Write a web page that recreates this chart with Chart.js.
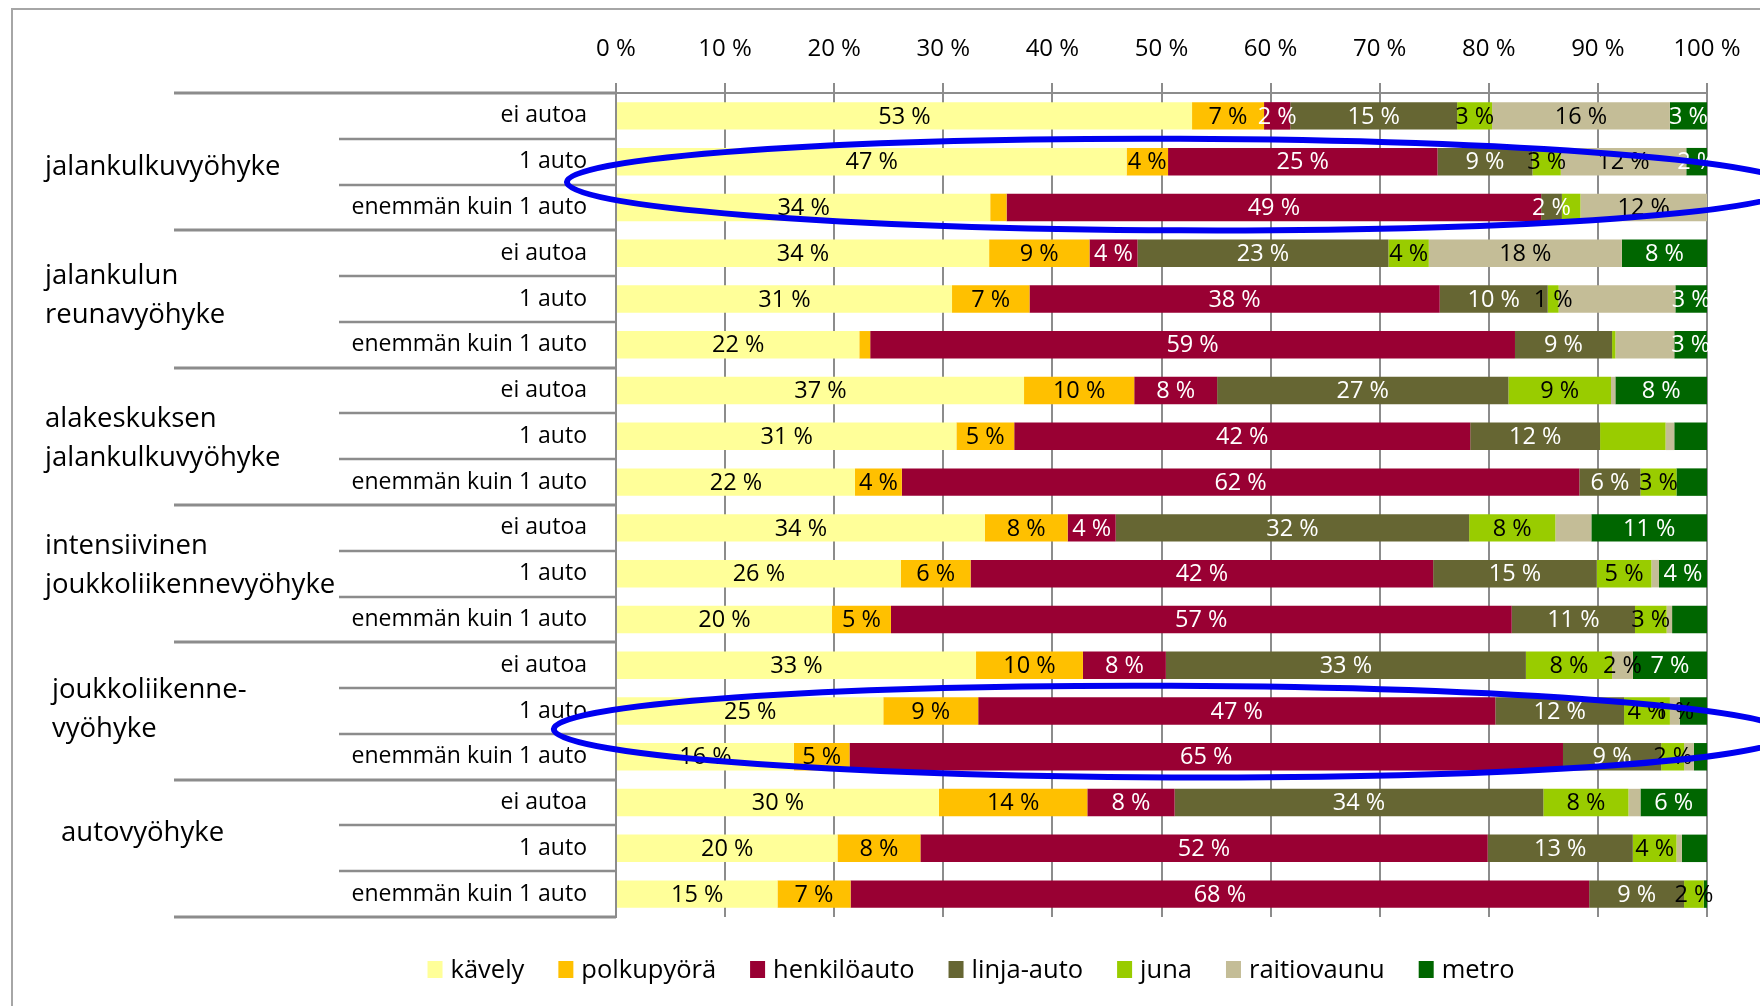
<!DOCTYPE html>
<html>
<head>
<meta charset="utf-8">
<script src="https://cdn.jsdelivr.net/npm/chart.js@4"></script>
<style>
  html, body { margin: 0; padding: 0; background: #fff; }
  #wrap { position: relative; width: 1760px; height: 1006px; overflow: hidden; }
</style>
</head>
<body>
<div id="wrap"><canvas id="chart" width="1760" height="1006"></canvas></div>
<script>
const groups = [
  ["jalankulkuvyöhyke"],
  ["jalankulun", "reunavyöhyke"],
  ["alakeskuksen", "jalankulkuvyöhyke"],
  ["intensiivinen", "joukkoliikennevyöhyke"],
  ["joukkoliikenne-", "vyöhyke"],
  ["autovyöhyke"]
];
const subLabels = ["ei autoa", "1 auto", "enemmän kuin 1 auto"];
const categories = groups.flatMap(() => subLabels);

const tickLabels = ["0 %", "10 %", "20 %", "30 %", "40 %", "50 %", "60 %", "70 %", "80 %", "90 %", "100 %"];

const seriesNames = ["kävely", "polkupyörä", "henkilöauto", "linja-auto", "juna", "raitiovaunu", "metro"];

const kavely      = [52.8, 46.8, 34.3, 34.2, 30.8, 22.3, 37.4, 31.2, 21.9, 33.8, 26.1, 19.8, 33.0, 24.5, 16.3, 29.6, 20.3, 14.8];
const polkupyora  = [6.6, 3.8, 1.5, 9.2, 7.1, 1.0, 10.1, 5.3, 4.3, 7.6, 6.4, 5.4, 9.8, 8.7, 5.1, 13.6, 7.6, 6.7];
const henkiloauto = [2.4, 24.7, 49.0, 4.4, 37.6, 59.1, 7.6, 41.8, 62.1, 4.4, 42.4, 56.9, 7.6, 47.4, 65.4, 8.0, 52.0, 67.7];
const linjaauto   = [15.3, 8.7, 1.9, 23.0, 9.9, 8.9, 26.7, 11.9, 5.6, 32.4, 15.0, 11.3, 33.0, 11.8, 9.0, 33.8, 13.3, 8.7];
const juna        = [3.2, 2.6, 1.7, 3.7, 1.0, 0.3, 9.4, 6.0, 3.3, 7.9, 5.0, 2.9, 7.9, 4.2, 2.1, 7.8, 4.0, 1.8];
const raitiovaunu = [16.3, 11.5, 11.6, 17.7, 10.7, 5.4, 0.4, 0.8, 0, 3.3, 0.7, 0.5, 1.9, 0.9, 0.9, 1.1, 0.5, 0];
const metro       = [3.4, 1.9, 0, 7.8, 2.9, 3.0, 8.4, 3.0, 2.8, 10.6, 4.4, 3.2, 6.8, 2.5, 1.2, 6.1, 2.3, 0.3];

// [row, series] pairs whose value label is left out in the original
const hiddenLabels = [
  [2, 1], [2, 4], [4, 5], [5, 1], [5, 4], [5, 5], [6, 5], [7, 4], [7, 5], [7, 6],
  [8, 6], [9, 5], [10, 5], [11, 5], [11, 6], [13, 6], [14, 5], [14, 6], [15, 5],
  [16, 5], [16, 6], [17, 6]
];

const colors = ["#FFFF99", "#FFC000", "#990033", "#666633", "#99CC00", "#C4BD97", "#006600"];
const labelColors = ["#000", "#000", "#fff", "#fff", "#000", "#000", "#fff"];
const FONT = "'Open Sans', 'DejaVu Sans', sans-serif";

const values = [kavely, polkupyora, henkiloauto, linjaauto, juna, raitiovaunu, metro];

const datasets = seriesNames.map((name, i) => ({
  label: name,
  data: values[i],
  backgroundColor: colors[i],
  borderWidth: 0,
  barPercentage: 0.6,
  categoryPercentage: 1
}));

const decorPlugin = {
  id: "decor",
  beforeDraw(chart) {
    const ctx = chart.ctx;
    ctx.save();
    ctx.fillStyle = "#fff";
    ctx.fillRect(0, 0, chart.width, chart.height);
    // outer frame (top and left edges visible)
    ctx.strokeStyle = "#a6a6a6";
    ctx.lineWidth = 2;
    ctx.beginPath();
    ctx.moveTo(12, chart.height);
    ctx.lineTo(12, 9);
    ctx.lineTo(chart.width, 9);
    ctx.stroke();
    ctx.restore();
  },
  afterDatasetsDraw(chart) {
    const ctx = chart.ctx;
    ctx.save();
    ctx.font = "23.5px " + FONT;
    ctx.textAlign = "center";
    ctx.textBaseline = "middle";
    chart.data.datasets.forEach((ds, si) => {
      const meta = chart.getDatasetMeta(si);
      meta.data.forEach((bar, ri) => {
        const v = ds.data[ri];
        if (!v) return;
        if (hiddenLabels.some(h => h[0] === ri && h[1] === si)) return;
        ctx.fillStyle = labelColors[si];
        ctx.fillText(Math.round(v) + " %", (bar.x + bar.base) / 2, bar.y + 1);
      });
    });
    ctx.restore();
  },
  afterDraw(chart) {
    const ctx = chart.ctx;
    const area = chart.chartArea;
    const y = chart.scales.y;
    const x = chart.scales.x;
    ctx.save();

    // category separators of the two-level axis
    ctx.strokeStyle = "#8c8c8c";
    for (let k = 0; k <= categories.length; k++) {
      const py = Math.round(y.getPixelForValue(k - 0.5));
      const major = k % 3 === 0;
      ctx.lineWidth = major ? 3 : 2.5;
      ctx.beginPath();
      ctx.moveTo(major ? 174 : 339, py);
      ctx.lineTo(area.left, py);
      ctx.stroke();
    }

    // group labels
    const gx = [45, 45, 45, 45, 52, 61];
    const gdy = [6, -3, 2, -8, -1, -15];
    ctx.fillStyle = "#000";
    ctx.font = "27.5px " + FONT;
    ctx.textAlign = "left";
    ctx.textBaseline = "middle";
    groups.forEach((lines, g) => {
      const cy = y.getPixelForValue(g * 3 + 1) + gdy[g];
      const lh = 39;
      lines.forEach((t, j) => {
        ctx.fillText(t, gx[g], cy + (j - (lines.length - 1) / 2) * lh);
      });
    });

    // legend
    ctx.font = "25.5px " + FONT;
    const box = 15, gap = 8, itemGap = 34;
    const widths = seriesNames.map(n => box + gap + ctx.measureText(n).width);
    const total = widths.reduce((a, b) => a + b, 0) + itemGap * (seriesNames.length - 1);
    let lx = 971 - total / 2;
    const ly = 970;
    seriesNames.forEach((n, i) => {
      ctx.fillStyle = colors[i];
      ctx.fillRect(lx, ly - 9, box, 17);
      ctx.fillStyle = "#000";
      ctx.fillText(n, lx + box + gap, ly + 1);
      lx += widths[i] + itemGap;
    });

    // highlight ellipses
    ctx.strokeStyle = "#0000f0";
    ctx.lineWidth = 6;
    [[51.7, 1.5, 56.2], [50.9, 13.45, 56.6]].forEach(([cx, cy, rxv]) => {
      const px = x.getPixelForValue(cx);
      const py = y.getPixelForValue(cy);
      const rx = x.getPixelForValue(cx + rxv) - px;
      const ry = y.getPixelForValue(cy + 1) - py;
      ctx.beginPath();
      ctx.ellipse(px, py, rx, ry, 0.004, 0, Math.PI * 2);
      ctx.stroke();
    });
    ctx.restore();
  }
};

new Chart(document.getElementById("chart"), {
  type: "bar",
  data: { labels: categories, datasets },
  plugins: [decorPlugin],
  options: {
    responsive: false,
    animation: false,
    indexAxis: "y",
    layout: { padding: { left: 0, right: 53, top: 0, bottom: 89 } },
    plugins: {
      legend: { display: false },
      tooltip: { enabled: false }
    },
    scales: {
      x: {
        position: "top",
        stacked: true,
        min: 0,
        max: 100,
        afterFit: s => { s.height = 93; },
        ticks: {
          stepSize: 10,
          padding: 19,
          color: "#000",
          font: { family: FONT, size: 24 },
          callback: (v, i) => tickLabels[i]
        },
        grid: { color: "#8c8c8c", lineWidth: 2, tickLength: 10, drawTicks: true },
        border: { display: true, color: "#8c8c8c", width: 2 }
      },
      y: {
        stacked: true,
        afterFit: s => { s.width = 616; },
        ticks: {
          padding: 29,
          color: "#000",
          font: { family: FONT, size: 23 }
        },
        grid: { display: false, drawTicks: false },
        border: { display: true, color: "#8c8c8c", width: 2 }
      }
    }
  }
});
</script>
</body>
</html>
